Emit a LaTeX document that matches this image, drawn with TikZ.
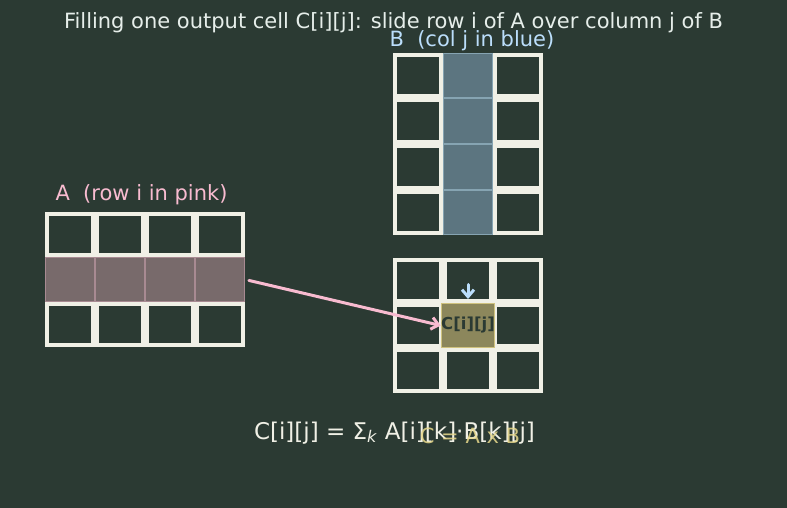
\documentclass[tikz,border=0pt]{standalone}
\usepackage{fontspec}
\setmainfont{DejaVu Sans}
\usepackage{tikz}
\usetikzlibrary{arrows.meta,positioning,calc}

\definecolor{bg}{HTML}{2B3A33}
\definecolor{gridline}{HTML}{F0F0E6}
\definecolor{titletext}{HTML}{E6EEEA}
\definecolor{pinktext}{HTML}{F8BBD0}
\definecolor{bluetext}{HTML}{BBDEFB}
\definecolor{pinkcell}{HTML}{786A6B}
\definecolor{pinkedge}{HTML}{A88A92}
\definecolor{bluecell}{HTML}{5C7580}
\definecolor{blueedge}{HTML}{86A4B2}
\definecolor{yellowcell}{HTML}{8C875C}
\definecolor{yellowedge}{HTML}{CFC27E}
\definecolor{yellowtext}{HTML}{E8D98C}

\begin{document}
\begin{tikzpicture}[x=1pt,y=-1pt,
  every node/.style={font=\fontsize{21}{25}\selectfont},
  cell/.style={draw=gridline,line width=4pt,fill=bg,minimum width=46pt,minimum height=41pt,inner sep=0pt},
  tallcell/.style={cell,minimum height=41.5pt},
  rowcell/.style={fill=pinkcell,draw=pinkedge,line width=1pt,minimum width=49pt,minimum height=44pt,inner sep=0pt},
  colcell/.style={fill=bluecell,draw=blueedge,line width=1pt,minimum width=49pt,minimum height=44.5pt,inner sep=0pt},
  outcell/.style={fill=yellowcell,draw=yellowedge,line width=1pt,minimum width=49pt,minimum height=44pt,inner sep=0pt,
    text=bg,font=\fontsize{16.5}{19}\selectfont\bfseries},
  to/.style={-{Straight Barb[length=7pt,width=12pt]},line width=3pt,line cap=round}]

    \fill[bg] (0,0) rectangle (787,508);
    \useasboundingbox (0,0) rectangle (787,508);

    \node[text=titletext] (title) at (393.5,23) {Filling one output cell C[i][j]: slide row i of A over column j of B};

    \foreach \r in {1,2,3}
      \foreach \c in {1,...,4}
        \node[cell] (A-\r-\c) at ({70+50*(\c-1)},{234.5+45*(\r-1)}) {};
    \foreach \c in {1,...,4}
      \node[rowcell] (Ai-\c) at (A-2-\c) {};
    \node[text=pinktext,anchor=base west] (Alabel) at (52,200) {A\ \ (row i in pink)};

    \foreach \r in {1,...,4}
      \foreach \c in {1,2,3}
        \node[tallcell] (B-\r-\c) at ({418+50*(\c-1)},{75.75+45.5*(\r-1)}) {};
    \foreach \r in {1,...,4}
      \node[colcell] (Bj-\r) at (B-\r-2) {};
    \node[text=bluetext,anchor=base west] (Blabel) at (386,47) {B\ \ (col j in blue)};

    \foreach \r in {1,2,3}
      \foreach \c in {1,2,3}
        \node[cell] (C-\r-\c) at ({418+50*(\c-1)},{280.5+45*(\r-1)}) {};
    \node[outcell] (Cij) at (C-2-2) {C[i][j]};

    \draw[to,pinktext,shorten <=4pt] (Ai-4.east) -- (Cij.west);
    \draw[to,bluetext,shorten <=4pt,shorten >=4pt] (C-1-2.center) -- (Cij.north);

    \node[text=gridline,font=\fontsize{23}{27}\selectfont,anchor=base] (formula) at (394.5,439) {C[i][j] = Σ\textsubscript{\textit{k}} A[i][k]·B[k][j]};
    \node[text=yellowtext,opacity=.85,anchor=base] (product) at (470,443) {C = A x B};
\end{tikzpicture}
\end{document}
